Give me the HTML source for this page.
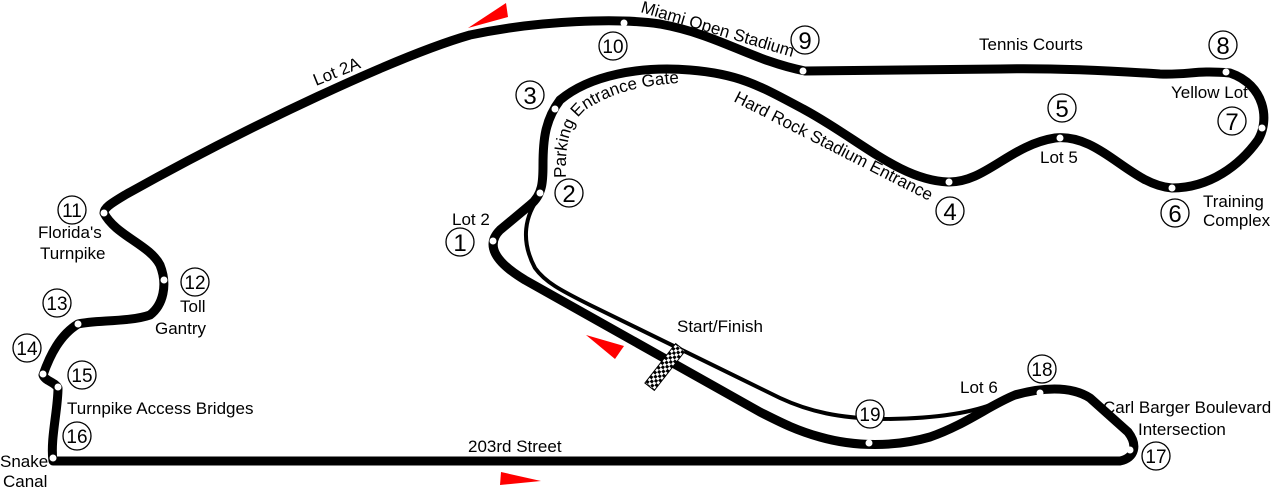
<!DOCTYPE html>
<html><head><meta charset="utf-8"><style>
html,body{margin:0;padding:0;background:#fff;}
svg{display:block;}
text{font-family:"Liberation Sans",sans-serif;fill:#000;}
.lbl{font-size:17px;}
.num{font-size:24px;text-anchor:middle;}
.n2{font-size:19px;}
</style></head><body>
<svg width="1280" height="492" viewBox="0 0 1280 492" xmlns="http://www.w3.org/2000/svg">
<defs>
<pattern id="chk" width="6" height="6" patternUnits="userSpaceOnUse">
<rect width="6" height="6" fill="#fff"/><rect width="3" height="3" fill="#000"/><rect x="3" y="3" width="3" height="3" fill="#000"/>
</pattern>
<path id="peg" d="M566,178 C565,145 569,125 584,111 C615,90 650,82 715,82"/>
</defs>
<path d="M540,196 C525,215 520,240 535,268 C545,282 560,290 590,305 L780,398 C810,412 840,418 880,419 C940,419 975,412 998,402" fill="none" stroke="#000" stroke-width="4"/>
<path d="M53,461 L1120,461 C1135,458 1138,445 1128,432 L1090,398 C1070,385 1040,388 1015,395 C990,405 965,425 930,437 C895,447 855,447 820,437 C795,430 780,422 760,412 L525,280 C495,262 485,245 500,230 L530,205 C543,195 543,180 543,165 C543,140 545,120 560,100 C590,75 640,66 690,70 C740,74 760,86 805,110 C860,140 900,180 948,182 C985,183 1010,145 1055,138 C1100,133 1130,185 1172,188 C1210,188 1240,165 1258,140 C1270,120 1265,85 1230,73 C1195,70 1190,75 1160,74 C1100,70 1050,68 1000,69 L805,71 C750,60 720,35 660,24 C620,18 540,20 470,35 C400,55 250,125 125,195 C110,204 104,208 104,213 C115,235 150,245 160,265 C168,285 163,305 150,315 C130,322 95,320 78,324 C60,335 50,355 43,375 C45,381 55,382 58,388 C58,410 50,440 53,461 Z" fill="none" stroke="#000" stroke-width="9" stroke-linejoin="round"/>
<g fill="#fff">
<circle cx="493" cy="241" r="3.5"/><circle cx="540" cy="193" r="3.5"/><circle cx="555" cy="109" r="3.5"/>
<circle cx="949" cy="182" r="3.5"/><circle cx="1060" cy="138" r="3.5"/><circle cx="1172" cy="188" r="3.5"/>
<circle cx="1262" cy="128" r="3.5"/><circle cx="1226" cy="72" r="3.5"/><circle cx="803" cy="71" r="3.5"/>
<circle cx="624" cy="23" r="3.5"/><circle cx="104" cy="213" r="3.5"/><circle cx="164" cy="280" r="3.5"/>
<circle cx="78" cy="324" r="3.5"/><circle cx="43" cy="374" r="3.5"/><circle cx="58" cy="387" r="3.5"/>
<circle cx="53" cy="458" r="3.5"/><circle cx="1130" cy="450" r="3.5"/><circle cx="1040" cy="393" r="3.5"/>
<circle cx="869" cy="443" r="3.5"/>
</g>
<g fill="#fff" stroke="#000" stroke-width="1.3">
<circle cx="460" cy="242" r="14"/><circle cx="569" cy="193" r="14"/><circle cx="530" cy="95" r="14"/>
<circle cx="950" cy="211" r="14"/><circle cx="1062" cy="108" r="14"/><circle cx="1175" cy="213" r="14"/>
<circle cx="1232" cy="121" r="14"/><circle cx="1223" cy="45" r="14"/><circle cx="805" cy="40" r="14"/>
<circle cx="613" cy="46" r="14"/><circle cx="72" cy="210" r="14"/><circle cx="195" cy="282" r="14"/>
<circle cx="57" cy="303" r="14"/><circle cx="27" cy="348" r="14"/><circle cx="82" cy="375" r="14"/>
<circle cx="77" cy="436" r="14"/><circle cx="1156" cy="456" r="14"/><circle cx="1042" cy="369" r="14"/>
<circle cx="870" cy="414" r="14"/>
</g>
<g class="num">
<text x="460" y="251">1</text><text x="569" y="202">2</text><text x="530" y="104">3</text>
<text x="950" y="220">4</text><text x="1062" y="117">5</text><text x="1175" y="222">6</text>
<text x="1232" y="130">7</text><text x="1223" y="54">8</text><text x="805" y="49">9</text>
<text class="n2" x="613" y="53">10</text><text class="n2" x="72" y="217">11</text><text class="n2" x="195" y="289">12</text>
<text class="n2" x="57" y="310">13</text><text class="n2" x="27" y="355">14</text><text class="n2" x="82" y="382">15</text>
<text class="n2" x="77" y="443">16</text><text class="n2" x="1156" y="463">17</text><text class="n2" x="1042" y="376">18</text>
<text class="n2" x="870" y="421">19</text>
</g>
<g class="lbl">
<text x="452" y="225">Lot 2</text>
<text x="316" y="86" transform="rotate(-22 316 86)">Lot 2A</text>
<text x="640" y="12" transform="rotate(16.5 640 12)">Miami Open Stadium</text>
<text x="979" y="50">Tennis Courts</text>
<text x="1171" y="98">Yellow Lot</text>
<text x="1040" y="163">Lot 5</text>
<text x="1203" y="207">Training</text>
<text x="1203" y="226">Complex</text>
<text x="733" y="101" transform="rotate(27 733 101)">Hard Rock Stadium Entrance</text>
<text><textPath href="#peg">Parking Entrance Gate</textPath></text>
<text x="38" y="238">Florida's</text>
<text x="40" y="259">Turnpike</text>
<text x="180" y="312">Toll</text>
<text x="155" y="334">Gantry</text>
<text x="67" y="414">Turnpike Access Bridges</text>
<text x="0" y="467">Snake</text>
<text x="3" y="487">Canal</text>
<text x="468" y="452">203rd Street</text>
<text x="677" y="332">Start/Finish</text>
<text x="960" y="393">Lot 6</text>
<text x="1103" y="413">Carl Barger Boulevard</text>
<text x="1138" y="435">Intersection</text>
</g>
<g fill="#f00">
<polygon points="468,28 506,3 508,17"/>
<polygon points="586,335 624,346 615,359"/>
<polygon points="501,472 541,481 500,485"/>
</g>
<rect x="-25" y="-6" width="50" height="12" fill="url(#chk)" stroke="#000" stroke-width="1" transform="translate(665,367) rotate(-52)"/>
</svg>
</body></html>
